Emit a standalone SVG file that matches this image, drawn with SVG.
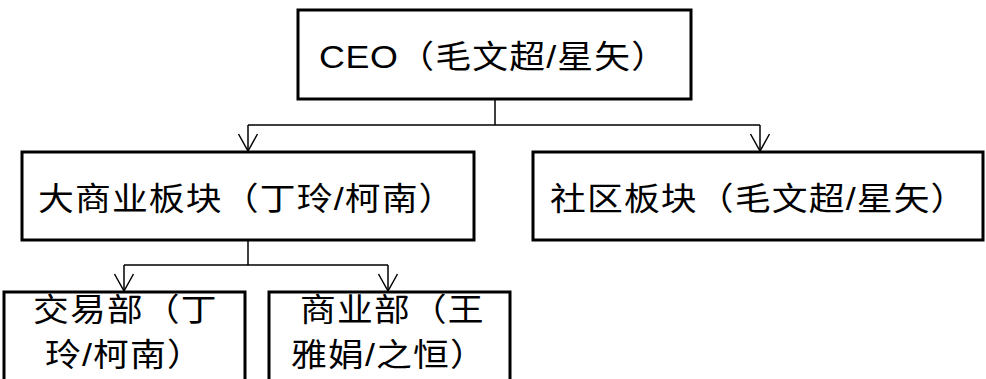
<svg xmlns="http://www.w3.org/2000/svg" width="986" height="379" viewBox="0 0 986 379">
<style>
.box{fill:#fff;stroke:#000;stroke-width:3}
.lbl{font-family:"Liberation Sans","Noto Sans CJK SC",sans-serif;font-size:32px;letter-spacing:1px;fill:#000}
.con{fill:none;stroke:#000;stroke-width:1.5}
</style>
<defs>
<marker id="arr" viewBox="-19 -11 21 22" markerWidth="21" markerHeight="22" refX="0" refY="0" markerUnits="userSpaceOnUse" orient="auto" overflow="visible">
<path d="M-17,-9.5 L0,0 L-17,9.5" fill="none" stroke="#000" stroke-width="1.5"/>
</marker>
</defs>
<g id="connectors">
<path class="con" d="M495,99 V125 M248,125 H760"/>
<path class="con" d="M248,125 V151" marker-end="url(#arr)"/>
<path class="con" d="M760,125 V151" marker-end="url(#arr)"/>
<path class="con" d="M248,240 V265 M124,265 H388"/>
<path class="con" d="M124,265 V291" marker-end="url(#arr)"/>
<path class="con" d="M388,265 V291" marker-end="url(#arr)"/>
</g>
<g id="ceo">
<rect class="box" x="298" y="10" width="393" height="89"/>
<text class="lbl" transform="translate(319,68) scale(1.12,1)"><tspan letter-spacing="0.5">CEO</tspan>（毛文超/星矢）</text>
</g>
<g id="dashangye">
<rect class="box" x="22" y="152" width="452" height="88"/>
<text class="lbl" transform="translate(38,210) scale(1.12,1)">大商业板块（丁玲/柯南）</text>
</g>
<g id="shequ">
<rect class="box" x="533" y="152" width="450" height="88"/>
<text class="lbl" transform="translate(550,210) scale(1.12,1)">社区板块（毛文超/星矢）</text>
</g>
<g id="jiaoyi">
<rect class="box" x="4" y="292" width="241" height="110"/>
<text class="lbl" transform="translate(33,321) scale(1.12,1)">交易部（丁</text>
<text class="lbl" transform="translate(45,366) scale(1.12,1)">玲/柯南）</text>
</g>
<g id="shangye">
<rect class="box" x="269" y="292" width="241" height="110"/>
<text class="lbl" transform="translate(300,321) scale(1.12,1)">商业部（王</text>
<text class="lbl" transform="translate(291,366) scale(1.12,1)">雅娟/之恒）</text>
</g>
</svg>
